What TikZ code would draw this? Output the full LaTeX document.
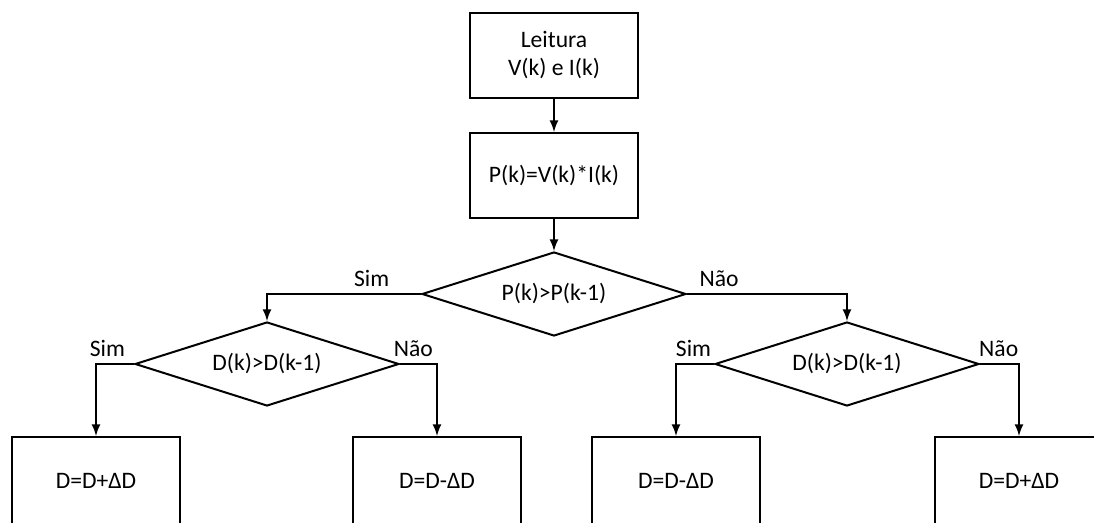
\documentclass[tikz,border=0pt]{standalone}
\usepackage{fontspec}
\setmainfont{Carlito}
\usetikzlibrary{shapes.geometric, positioning}
\tikzstyle{process} = [rectangle, minimum width=84pt, minimum height=42.5pt, text centered, draw=black]
\tikzstyle{result} = [rectangle, minimum width=84pt, minimum height=44pt, text centered, draw=black]
\tikzstyle{decision} = [diamond, aspect=3, minimum width=132pt, minimum height=42pt, inner sep=0pt, text centered, draw=black]

\begin{document}
\begin{tikzpicture}[x=0.5pt, y=-0.5pt, line width=1pt, font=\fontsize{11.8}{14}\selectfont]
		\useasboundingbox (0,0) rectangle (1094,523);
		\clip (0,0) rectangle (1094,523);
		\node (Leitura)[process, align=center] at (554,55.5) {Leitura\\V(k) e I(k)};
		\node (Potencia)[process, below = 16.5pt of Leitura]{P(k)=V(k)*I(k)};
		\node (Teste P)[decision, below = 16pt of Potencia]{P(k)>P(k-1)};
		\node (Teste D Sim)[decision] at (267,364) {D(k)>D(k-1)};
		\node (Teste D Nao)[decision] at (847,364) {D(k)>D(k-1)};
		\node (Soma A)[result] at (96,481) {D=D+ΔD};
		\node (Sub A)[result] at (437,481) {D=D-ΔD};
		\node (Sub B)[result] at (676,481) {D=D-ΔD};
		\node (Soma B)[result] at (1019,481) {D=D+ΔD};
		\draw [-latex] (Leitura) -- (Potencia);
		\draw [-latex] (Potencia) -- (Teste P);
		\draw [-latex] (Teste P.west) -| node[pos=0.16, above]{Sim} (Teste D Sim.north);
		\draw [-latex] (Teste P.east) -| node[pos=0.1, above]{Não} (Teste D Nao.north);
		\draw [-latex] (Teste D Sim.west) -| node[pos=0.35, above]{Sim} (Soma A.north);
		\draw [-latex] (Teste D Sim.east) -| node[pos=0.18, above]{Não} (Sub A.north);
		\draw [-latex] (Teste D Nao.west) -| node[pos=0.27, above]{Sim} (Sub B.north);
		\draw [-latex] (Teste D Nao.east) -| node[pos=0.24, above]{Não} (Soma B.north);
	\end{tikzpicture}
\end{document}
